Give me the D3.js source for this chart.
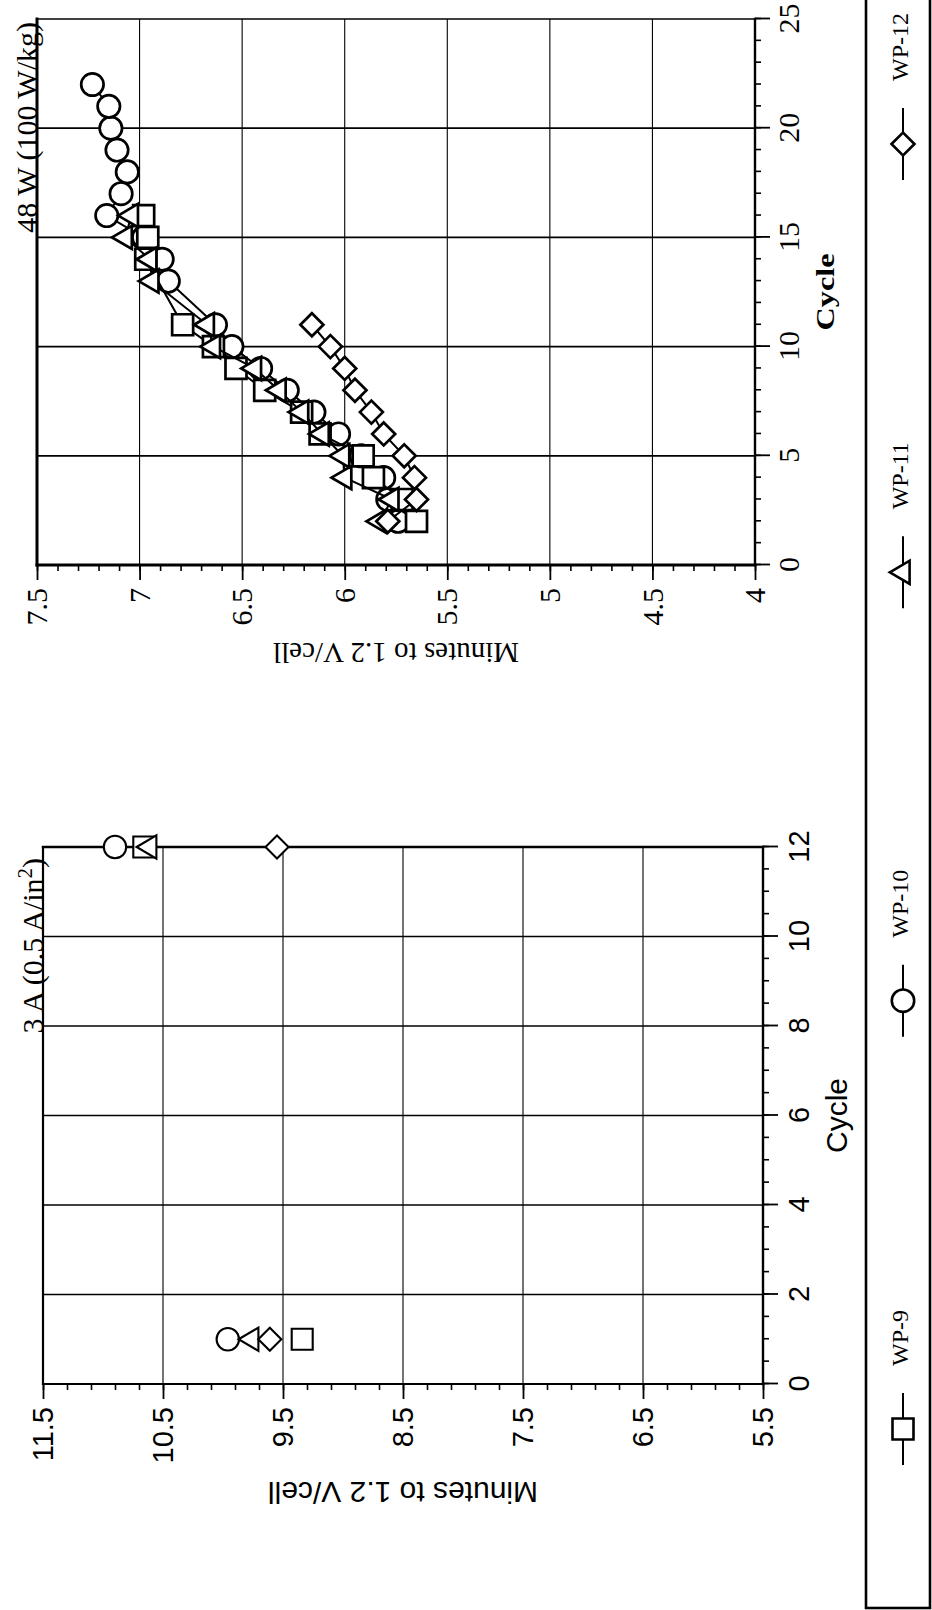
<!DOCTYPE html>
<html>
<head>
<meta charset="utf-8">
<script src="https://cdn.jsdelivr.net/npm/d3@7"></script>
<style>
  html, body { margin: 0; padding: 0; background: #fff; }
  svg { display: block; }
</style>
</head>
<body>
<svg id="chart" width="932" height="1610"></svg>
<script>
// ---- Series legend ----
const seriesNames  = ["WP-9", "WP-10", "WP-11", "WP-12"];
const seriesShapes = ["square", "circle", "triangle", "diamond"];

// ---- 3 A (0.5 A/in²) test: minutes to 1.2 V/cell by cycle ----
const cyclesA = [1, 12];
const wp9A  = [9.34, 10.66];
const wp10A = [9.96, 10.90];
const wp11A = [9.76, 10.61];
const wp12A = [9.61, 9.55];

// ---- 48 W (100 W/kg) test: minutes to 1.2 V/cell by cycle ----
const wp9CyclesB  = [2, 3, 4, 5, 6, 7, 8, 9, 10, 11, 14, 15, 16];
const wp9B        = [5.65, 5.72, 5.86, 5.91, 6.12, 6.21, 6.39, 6.53, 6.64, 6.79, 6.97, 6.96, 6.98];
const wp10CyclesB = [2, 3, 4, 5, 6, 7, 8, 9, 10, 11, 13, 14, 15, 16, 17, 18, 19, 20, 21, 22];
const wp10B       = [5.74, 5.79, 5.81, 5.92, 6.03, 6.15, 6.28, 6.41, 6.55, 6.63, 6.86, 6.89, 6.98, 7.16, 7.09, 7.06, 7.11, 7.14, 7.15, 7.23];
const wp11CyclesB = [2, 3, 4, 5, 6, 7, 8, 9, 10, 11, 13, 14, 15, 16];
const wp11B       = [5.83, 5.77, 6.00, 6.01, 6.11, 6.21, 6.32, 6.44, 6.64, 6.67, 6.94, 6.95, 7.07, 7.04];
const wp12CyclesB = [2, 3, 4, 5, 6, 7, 8, 9, 10, 11];
const wp12B       = [5.79, 5.65, 5.66, 5.71, 5.81, 5.87, 5.95, 6.00, 6.07, 6.16];

// ---- Tick labels ----
const cycleTicksA  = [0, 2, 4, 6, 8, 10, 12];
const minuteTicksA = [11.5, 10.5, 9.5, 8.5, 7.5, 6.5, 5.5];
const cycleTicksB  = [0, 5, 10, 15, 20, 25];
const minuteTicksB = [7.5, 7, 6.5, 6, 5.5, 5, 4.5, 4];

const SERIF = "'Liberation Serif','Times New Roman',Times,serif";
const SANS  = "'Liberation Sans',Arial,Helvetica,sans-serif";

const svg = d3.select("#chart");
svg.append("rect").attr("width", 932).attr("height", 1610).attr("fill", "#fff");

// The sheet is laid out landscape (1610 wide, 932 tall) and turned a quarter turn.
const page = svg.append("g").attr("transform", "translate(0,1610) rotate(-90)");

function markerPath(shape) {
  switch (shape) {
    case "square":   return "M-10.5,-10.5H10.5V10.5H-10.5Z";
    case "circle":   return "M11.2,0A11.2,11.2,0,1,1,-11.2,0A11.2,11.2,0,1,1,11.2,0Z";
    case "triangle": return "M0,-13.2L11.6,6.6L-11.6,6.6Z";
    case "diamond":  return "M0,-11.5L11.5,0L0,11.5L-11.5,0Z";
  }
}

function steps(d0, d1, step) {
  const n = Math.round((d1 - d0) / step);
  return d3.range(n + 1).map(i => +(d0 + i * step).toFixed(3));
}

function styleAxis(sel, font, size) {
  sel.select(".domain").remove();
  sel.attr("font-family", font).attr("font-size", size);
  sel.selectAll("text").attr("fill", "#000");
  sel.selectAll("line").attr("stroke", "#000");
}

function drawPanel(p) {
  const x = d3.scaleLinear().domain(p.cycleDomain).range(p.uRange);
  const y = d3.scaleLinear().domain(p.minuteDomain).range(p.vRange);
  const [uL, uR] = p.uRange;
  const vB = p.vRange[0], vT = p.vRange[1];
  const g = page.append("g");

  // grid
  g.append("g").selectAll("line")
    .data(p.cycleTicks.filter(c => c > p.cycleDomain[0] && c < p.cycleDomain[1]))
    .join("line")
    .attr("x1", d => x(d)).attr("x2", d => x(d))
    .attr("y1", vT).attr("y2", vB)
    .attr("stroke", "#000").attr("stroke-width", p.cycleGridW);
  g.append("g").selectAll("line")
    .data(p.minuteTicks.filter(m => m > p.minuteDomain[0] && m < p.minuteDomain[1]))
    .join("line")
    .attr("x1", uL).attr("x2", uR)
    .attr("y1", d => y(d)).attr("y2", d => y(d))
    .attr("stroke", "#000").attr("stroke-width", 1.1);

  // cycle axis: minor then major ticks
  g.append("g").attr("transform", `translate(0,${vB})`)
    .call(d3.axisBottom(x).tickValues(steps(p.cycleDomain[0], p.cycleDomain[1], p.cycleMinor))
      .tickSize(6).tickFormat(""))
    .call(s => styleAxis(s, p.tickFont, p.tickSize))
    .selectAll("line").attr("stroke-width", 1.6);
  g.append("g").attr("transform", `translate(0,${vB})`)
    .call(d3.axisBottom(x).tickValues(p.cycleTicks).tickSize(15).tickPadding(p.cyclePad)
      .tickFormat(d => String(d)))
    .call(s => styleAxis(s, p.tickFont, p.tickSize))
    .selectAll("line").attr("stroke-width", 1.8);

  // minutes axis: minor then major ticks
  g.append("g").attr("transform", `translate(${uL},0)`)
    .call(d3.axisLeft(y).tickValues(steps(p.minuteDomain[0], p.minuteDomain[1], p.minuteMinor))
      .tickSize(6).tickFormat(""))
    .call(s => styleAxis(s, p.tickFont, p.tickSize))
    .selectAll("line").attr("stroke-width", 1.6);
  g.append("g").attr("transform", `translate(${uL},0)`)
    .call(d3.axisLeft(y).tickValues(p.minuteTicks).tickSize(15).tickPadding(8)
      .tickFormat(d => String(d)))
    .call(s => styleAxis(s, p.tickFont, p.tickSize))
    .selectAll("line").attr("stroke-width", 1.8);

  // frame
  const frame = [
    [uL, vT, uL, vB, p.frameW.left],
    [uL, vB, uR, vB, p.frameW.bottom],
    [uL, vT, uR, vT, p.frameW.top],
    [uR, vT, uR, vB, p.frameW.right]
  ];
  g.append("g").selectAll("line").data(frame).join("line")
    .attr("x1", d => d[0]).attr("y1", d => d[1])
    .attr("x2", d => d[2]).attr("y2", d => d[3])
    .attr("stroke", "#000").attr("stroke-width", d => d[4])
    .attr("stroke-linecap", "square");

  // axis titles
  const ct = g.append("text")
    .attr("x", (uL + uR) / 2).attr("y", vB + p.cycleTitleOffset)
    .attr("text-anchor", "middle")
    .attr("font-family", p.tickFont).attr("font-size", p.cycleTitleSize)
    .attr("font-weight", p.cycleTitleWeight)
    .text("Cycle");
  if (p.cycleTitleLength) {
    ct.attr("textLength", p.cycleTitleLength).attr("lengthAdjust", "spacingAndGlyphs");
  }
  g.append("text")
    .attr("transform", `translate(${uL - p.minuteTitleOffset},${(vT + vB) / 2}) rotate(-90)`)
    .attr("text-anchor", "middle")
    .attr("font-family", p.tickFont).attr("font-size", p.minuteTitleSize)
    .text("Minutes to 1.2 V/cell");

  // test condition label
  const t = g.append("text")
    .attr("x", uR - p.labelInset).attr("y", vT + p.labelBaseline)
    .attr("text-anchor", "end")
    .attr("font-family", SERIF).attr("font-size", 30);
  p.label(t);

  // series
  const line = d3.line().x(d => x(d[0])).y(d => y(d[1]));
  p.series.forEach(s => {
    const pts = s.cycles.map((c, i) => [c, s.values[i]]);
    if (p.connect) {
      g.append("path").datum(pts).attr("d", line)
        .attr("fill", "none").attr("stroke", "#000").attr("stroke-width", 2);
    }
    g.append("g").selectAll("path").data(pts).join("path")
      .attr("transform", d => `translate(${x(d[0])},${y(d[1])})`)
      .attr("d", markerPath(s.shape))
      .attr("fill", "#fff").attr("stroke", "#000")
      .attr("stroke-width", p.markerStroke).attr("stroke-linejoin", "miter");
  });
}

const shapeOf = name => seriesShapes[seriesNames.indexOf(name)];

// Left sheet half: 3 A discharge
drawPanel({
  uRange: [226, 763], vRange: [763, 43],
  cycleDomain: [0, 12], minuteDomain: [5.5, 11.5],
  cycleTicks: cycleTicksA, cycleMinor: 0.5,
  minuteTicks: minuteTicksA, minuteMinor: 0.2,
  tickFont: SANS, tickSize: 29, cyclePad: 10,
  cycleGridW: 1.6,
  frameW: { left: 2.2, bottom: 2.4, top: 2.2, right: 2.4 },
  cycleTitleOffset: 84, cycleTitleSize: 30, cycleTitleWeight: "normal",
  minuteTitleOffset: 98, minuteTitleSize: 30,
  labelInset: 11, labelBaseline: 0,
  label: t => {
    t.append("tspan").text("3 A (0.5 A/in");
    t.append("tspan").attr("dy", -11).attr("font-size", 21).text("2");
    t.append("tspan").attr("dy", 11).text(")");
  },
  connect: false, markerStroke: 2.1,
  series: [
    { name: "WP-10", cycles: cyclesA, values: wp10A },
    { name: "WP-9",  cycles: cyclesA, values: wp9A },
    { name: "WP-11", cycles: cyclesA, values: wp11A },
    { name: "WP-12", cycles: cyclesA, values: wp12A }
  ].map(s => ({ ...s, shape: shapeOf(s.name) }))
});

// Right sheet half: 48 W discharge
drawPanel({
  uRange: [1045, 1591], vRange: [755, 37],
  cycleDomain: [0, 25], minuteDomain: [4, 7.5],
  cycleTicks: cycleTicksB, cycleMinor: 1,
  minuteTicks: minuteTicksB, minuteMinor: 0.1,
  tickFont: SERIF, tickSize: 30, cyclePad: 8,
  cycleGridW: 1.8,
  frameW: { left: 3, bottom: 2.4, top: 3, right: 1.4 },
  cycleTitleOffset: 79, cycleTitleSize: 25, cycleTitleWeight: "bold", cycleTitleLength: 77,
  minuteTitleOffset: 78, minuteTitleSize: 29,
  labelInset: 3, labelBaseline: 0,
  label: t => t.text("48 W (100 W/kg)"),
  connect: true, markerStroke: 2.7,
  series: [
    { name: "WP-10", cycles: wp10CyclesB, values: wp10B },
    { name: "WP-9",  cycles: wp9CyclesB,  values: wp9B },
    { name: "WP-11", cycles: wp11CyclesB, values: wp11B },
    { name: "WP-12", cycles: wp12CyclesB, values: wp12B }
  ].map(s => ({ ...s, shape: shapeOf(s.name) }))
});

// ---- Legend strip along the foot of the sheet ----
const legendPos = d3.scalePoint().domain(seriesNames).range([181, 1466]);
const legend = page.append("g");
legend.append("rect")
  .attr("x", 2).attr("y", 866).attr("width", 1640).attr("height", 64)
  .attr("fill", "none").attr("stroke", "#000").attr("stroke-width", 2.6);
const items = legend.selectAll("g.item").data(seriesNames).join("g")
  .attr("class", "item")
  .attr("transform", d => `translate(${legendPos(d)},903)`);
items.append("line")
  .attr("x1", -36).attr("x2", 36).attr("y1", 0).attr("y2", 0)
  .attr("stroke", "#000").attr("stroke-width", 2);
items.append("path")
  .attr("d", (d, i) => markerPath(seriesShapes[i]))
  .attr("fill", "#fff").attr("stroke", "#000").attr("stroke-width", 2.6);
items.append("text")
  .attr("x", 63).attr("y", -3).attr("dy", "0.33em")
  .attr("font-family", SERIF).attr("font-size", 24)
  .text(d => d);
</script>
</body>
</html>
